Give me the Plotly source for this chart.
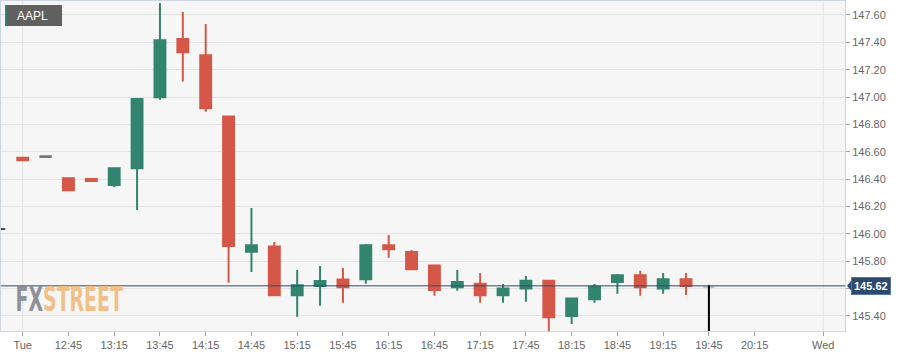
import plotly.graph_objects as go

# ---------------- data ----------------
times = ["12:00", "12:15", "12:30", "12:45", "13:00", "13:15", "13:30", "13:45",
         "14:00", "14:15", "14:30", "14:45", "15:00", "15:15", "15:30", "15:45",
         "16:00", "16:15", "16:30", "16:45", "17:00", "17:15", "17:30", "17:45",
         "18:00", "18:15", "18:30", "18:45", "19:00", "19:15", "19:30", "19:45"]
opens = [146.036, 146.557, 146.569, 146.406, 146.401, 146.358, 146.480, 146.998,
         147.425, 147.305, 146.857, 145.870, 145.907, 145.551, 145.619, 145.667,
         145.668, 145.917, 145.868, 145.768, 145.610, 145.636, 145.551, 145.601,
         145.658, 145.400, 145.522, 145.649, 145.697, 145.600, 145.668, 145.612]
highs = [146.036, 146.557, 146.569, 146.406, 146.401, 146.480, 146.986, 147.688,
         147.622, 147.534, 146.857, 146.189, 145.941, 145.736, 145.766, 145.751,
         145.926, 145.992, 145.882, 145.773, 145.736, 145.714, 145.634, 145.692,
         145.663, 145.532, 145.634, 145.707, 145.731, 145.714, 145.714, 145.627]
lows = [146.036, 146.538, 146.560, 146.319, 146.387, 146.341, 146.175, 146.981,
        147.113, 146.893, 145.643, 145.722, 145.551, 145.395, 145.475, 145.497,
        145.636, 145.826, 145.741, 145.548, 145.585, 145.497, 145.497, 145.504,
        145.270, 145.342, 145.497, 145.563, 145.548, 145.563, 145.553, 145.270]
closes = [146.036, 146.538, 146.560, 146.319, 146.387, 146.480, 146.986, 147.415,
          147.327, 146.918, 145.912, 145.917, 145.551, 145.624, 145.656, 145.610,
          145.917, 145.888, 145.741, 145.590, 145.649, 145.551, 145.600, 145.658,
          145.390, 145.527, 145.614, 145.697, 145.610, 145.668, 145.619, 145.612]
# candle kind: "prev" = previous session (black), "flat" = grey, "live" = current bar, "" = normal
kinds = ["prev", "", "flat"] + [""] * 28 + ["live"]

symbol = "AAPL"
last_price = 145.62

tick_times = ["12:15", "12:45", "13:15", "13:45", "14:15", "14:45", "15:15", "15:45",
              "16:15", "16:45", "17:15", "17:45", "18:15", "18:45", "19:15", "19:45",
              "20:15", "21:00"]
tick_labels = ["Tue", "12:45", "13:15", "13:45", "14:15", "14:45", "15:15", "15:45",
               "16:15", "16:45", "17:15", "17:45", "18:15", "18:45", "19:15", "19:45",
               "20:15", "Wed"]
day_breaks = ["12:15", "21:00"]
y_ticks = [145.40, 145.60, 145.80, 146.00, 146.20, 146.40, 146.60, 146.80,
           147.00, 147.20, 147.40, 147.60]

# ---------------- helpers ----------------
def slot(t):
    h, m = t.split(":")
    return (int(h) * 60 + int(m) - (12 * 60 + 15)) / 15.0

xs = [slot(t) for t in times]
# the last-price badge hides the tick label underneath it
y_text = ["" if abs(v - last_price) < 0.05 else "%.2f" % v for v in y_ticks]

GREEN = "#32846f"
RED = "#d55747"
GRID = "#e3e3e3"
FRAME = "#cdd4e4"
NAVY = "#2c4a70"
TXT = "#666666"

def pick(kind):
    idx = [i for i, k in enumerate(kinds) if k == kind]
    return ([xs[i] for i in idx], [opens[i] for i in idx], [highs[i] for i in idx],
            [lows[i] for i in idx], [closes[i] for i in idx])

def candle(kind, up, down, width):
    x, o, h, l, c = pick(kind)
    return go.Candlestick(
        x=x, open=o, high=h, low=l, close=c,
        increasing=dict(line=dict(color=up, width=width), fillcolor=up),
        decreasing=dict(line=dict(color=down, width=width), fillcolor=down),
        hoverinfo="skip", showlegend=False)

fig = go.Figure()
fig.add_trace(candle("", GREEN, RED, 2))
fig.add_trace(candle("flat", "#777777", "#777777", 1.5))
fig.add_trace(candle("prev", "#111111", "#111111", 1.5))
fig.add_trace(candle("live", "#b4b4b4", "#b4b4b4", 1.5))
# live bar wick in black
x, o, h, l, c = pick("live")
fig.add_trace(go.Scatter(
    x=[x[0], x[0]], y=[l[0], h[0]], mode="lines",
    line=dict(color="#000000", width=2), hoverinfo="skip", showlegend=False))

# day-break vertical grid lines
for t in day_breaks:
    fig.add_vline(x=slot(t), line=dict(color=GRID, width=1), layer="below")

# last price line
fig.add_hline(y=last_price, line=dict(color=NAVY, width=1), layer="above")

# last price pointer + label
fig.add_shape(type="path", xref="paper", yref="y", xsizemode="pixel", ysizemode="pixel",
              xanchor=1, yanchor=last_price, path="M 2,0 L 7,6 L 7,-6 Z",
              fillcolor=NAVY, line=dict(width=0))
fig.add_annotation(xref="paper", yref="y", x=1, y=last_price, xanchor="left", yanchor="middle",
                   xshift=6, text="<b>%.2f</b>" % last_price, showarrow=False,
                   font=dict(family="Liberation Sans, Arial, sans-serif", size=11, color="white"),
                   bgcolor=NAVY, bordercolor="#5d7698", borderwidth=1, borderpad=2)

# symbol badge
fig.add_shape(type="rect", xref="paper", yref="paper", xsizemode="pixel", ysizemode="pixel",
              xanchor=0, yanchor=1, x0=4, x1=61, y0=-4, y1=-25,
              fillcolor="#606060", line=dict(width=0))
fig.add_shape(type="rect", xref="paper", yref="paper", xsizemode="pixel", ysizemode="pixel",
              xanchor=0, yanchor=1, x0=4, x1=6, y0=-4, y1=-25,
              fillcolor=GREEN, line=dict(width=0))
fig.add_annotation(xref="paper", yref="paper", x=0, y=1, xanchor="left", yanchor="middle",
                   xshift=14, yshift=-15, text=symbol, showarrow=False,
                   font=dict(family="Liberation Sans, Arial, sans-serif", size=12, color="white"))

# watermark
fig.add_annotation(xref="paper", yref="paper", x=0, y=0, xanchor="left", yanchor="bottom",
                   xshift=10, yshift=17, showarrow=False,
                   text='<b><span style="color:#8d9099">FX</span><span style="color:#f1c089">STREET</span></b>',
                   font=dict(family="Liberation Sans Narrow, DejaVu Sans Condensed, Liberation Sans, sans-serif",
                             size=22))

fig.update_layout(
    width=916, height=357,
    margin=dict(l=1, r=71, t=1, b=26),
    paper_bgcolor="white", plot_bgcolor="#f6f6f6",
    boxgap=0.32,
    showlegend=False,
    font=dict(family="Liberation Sans, Arial, sans-serif", size=11, color=TXT),
    xaxis=dict(range=[-0.949, 35.95], tickvals=[slot(t) for t in tick_times], ticktext=tick_labels,
               showgrid=False, zeroline=False, ticks="outside", ticklen=4, tickcolor="#9aa0ad",
               showline=True, linecolor=FRAME, mirror=True, rangeslider=dict(visible=False),
               tickfont=dict(size=11, color=TXT)),
    yaxis=dict(range=[145.290, 147.702], side="right", tickvals=y_ticks, ticktext=y_text,
               showgrid=True, gridcolor=GRID, zeroline=False, ticks="outside", ticklen=4,
               tickcolor="#9aa0ad", showline=True, linecolor=FRAME, mirror=True,
               tickfont=dict(size=11, color=TXT)),
)

post = """
document.body.style.margin = '0px';
document.querySelectorAll('.annotation-text').forEach(function (el) {
  if (el.textContent === 'FXSTREET') {
    el.style.transformBox = 'fill-box';
    el.style.transformOrigin = 'center';
    el.style.transform = 'scale(0.955, 1.55)';
  }
});
"""

fig.write_html("out.html", config={"displayModeBar": False}, post_script=post)
